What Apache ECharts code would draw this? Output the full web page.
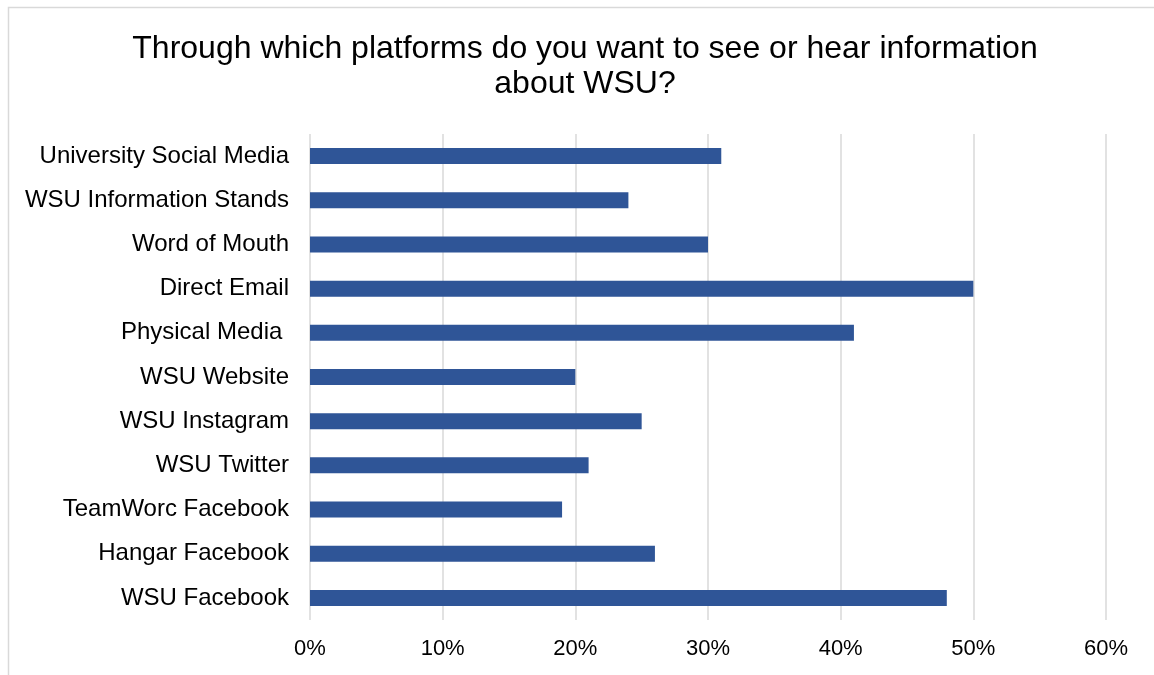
<!DOCTYPE html>
<html>
<head>
<meta charset="utf-8">
<script src="https://cdn.jsdelivr.net/npm/echarts@6/dist/echarts.min.js"></script>
<style>
  html, body { margin: 0; padding: 0; background: #fff; }
  #chart { width: 1154px; height: 675px; }
</style>
</head>
<body>
<div id="chart"></div>
<script>
// survey answers, top to bottom as shown
const platforms = [
  "University Social Media",
  "WSU Information Stands",
  "Word of Mouth",
  "Direct Email",
  "Physical Media ",
  "WSU Website",
  "WSU Instagram",
  "WSU Twitter",
  "TeamWorc Facebook",
  "Hangar Facebook",
  "WSU Facebook"
];
const shares = [31, 24, 30, 50, 41, 20, 25, 21, 19, 26, 48];
const xTicks = [0, 10, 20, 30, 40, 50, 60];

const font = "'Liberation Sans', Arial, sans-serif";

let chart = echarts.init(document.getElementById("chart"));
chart.setOption({
  animation: false,
  backgroundColor: "#fff",
  textStyle: { fontFamily: font },
  title: {
    text: "Through which platforms do you want to see or hear information\nabout WSU?",
    left: 580,
    top: 27,
    textAlign: "center",
    textStyle: {
      fontFamily: font,
      fontSize: 32,
      fontWeight: "normal",
      color: "#000",
      lineHeight: 35
    }
  },
  graphic: [{
    type: "rect",
    shape: { x: 8.5, y: 7.5, width: 1300, height: 800 },
    style: { fill: "none", stroke: "#d9d9d9", lineWidth: 1.5 },
    silent: true
  }],
  grid: { left: 310, right: 48, top: 134, bottom: 55 },
  xAxis: {
    type: "value",
    min: xTicks[0],
    max: xTicks[xTicks.length - 1],
    interval: 10,
    axisLine: { show: false },
    axisTick: { show: false },
    axisLabel: {
      formatter: "{value}%",
      fontSize: 22,
      color: "#000",
      margin: 18
    },
    splitLine: { lineStyle: { color: "#d9d9d9", width: 1.5 } }
  },
  yAxis: {
    type: "category",
    inverse: true,
    data: platforms,
    axisLine: { show: false },
    axisTick: { show: false },
    axisLabel: { fontSize: 24, color: "#000", margin: 21 }
  },
  series: [{
    type: "bar",
    data: shares,
    barWidth: 16,
    itemStyle: { color: "#2F5597" }
  }]
});
</script>
</body>
</html>
